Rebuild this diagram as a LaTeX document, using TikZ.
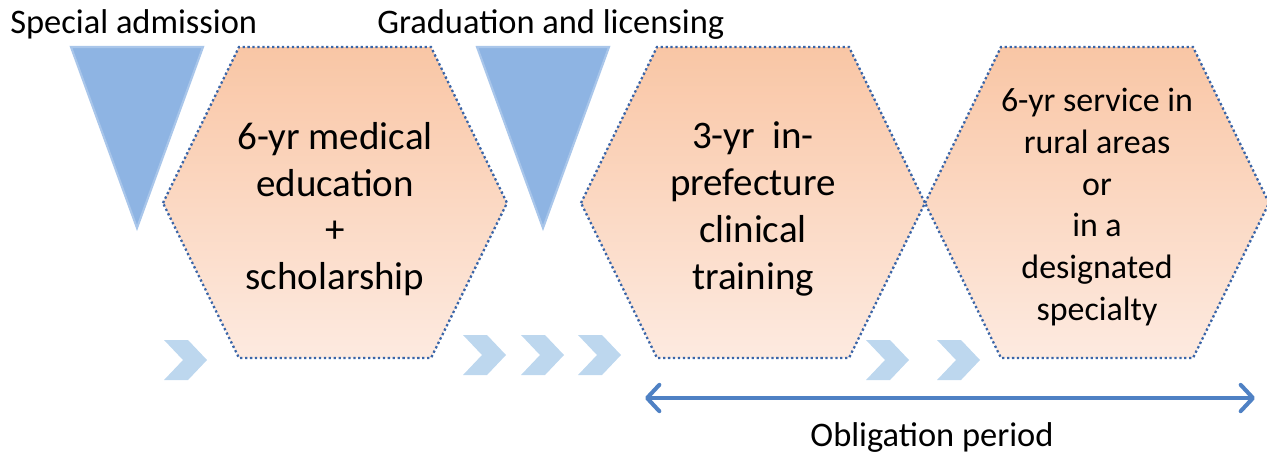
\documentclass[tikz,border=0pt]{standalone}
\usepackage{fontspec}
\setmainfont{Carlito}
\usetikzlibrary{arrows.meta}
\definecolor{peachtop}{HTML}{F9C6A5}
\definecolor{peachbot}{HTML}{FDEAE0}
\definecolor{dotblue}{HTML}{3A65A8}
\definecolor{tribl}{HTML}{8EB4E3}
\definecolor{triedge}{HTML}{A9C6EA}
\definecolor{chevbl}{HTML}{BDD7EE}
\definecolor{arrbl}{HTML}{4F81C4}
\begin{document}
\begin{tikzpicture}[x=0.02cm,y=-0.02cm]
        \tikzset{
            hexa/.style={
              insert path={+(-172,0) -- +(-96,-156) -- +(96,-156) -- +(172,0) -- +(96,155) -- +(-96,155) -- cycle}
            },
            wedge/.style={
              insert path={+(-66,0) -- +(66,0) -- +(0,181) -- cycle}
            },
            chev/.style={
              insert path={+(0,-20) -- +(24,-20) -- +(43,0) -- +(24,20) -- +(0,20) -- +(19,0) -- cycle}
            },
            hexfill/.style={top color=peachtop, bottom color=peachbot, draw=dotblue,
              line width=1.3pt, dash pattern=on 1.3pt off 1.5pt},
            bigtext/.style={align=center, font=\fontsize{22.2}{26.6}\selectfont},
            smalltext/.style={align=center, font=\fontsize{19.3}{23.8}\selectfont},
            headtext/.style={anchor=base west, inner sep=0pt, font=\fontsize{19.6}{23.5}\selectfont}
          }
        \useasboundingbox (0,0) rectangle (1267,454);

        % entry points
        \coordinate (adm) at (137,47);
        \coordinate (grad) at (543,47);
        \foreach \t in {adm,grad}
          \filldraw[fill=tribl, draw=triedge, line width=1.2pt] (\t) [wedge];
        \node[headtext] (admtxt) at (10,33) {Special admission};
        \node[headtext] (gradtxt) at (377,33) {Graduation and licensing};

        % the three stages
        \coordinate (edu) at (335,203);
        \coordinate (train) at (753,203);
        \coordinate (serv) at (1097,203);
        \foreach \h in {edu,train,serv}
          \path[hexfill] (\h) [hexa];
        \node[bigtext] (edutxt) at (335,209) {6-yr medical\\education\\+\\scholarship};
        \node[bigtext] (traintxt) at (753,209) {3-yr~~in-\\prefecture\\clinical\\training};
        \node[smalltext] (servtxt) at (1097,207) {6-yr service in\\rural areas\\or\\in a\\designated\\specialty};

        % chevrons between the stages
        \foreach \x/\y in {164/360, 463/355, 521/355, 578/355, 866/360, 937/360}
          \fill[chevbl] (\x,\y) [chev];

        % obligation period
        \coordinate (obs) at (645,398);
        \coordinate (obe) at (1255,398);
        \draw[arrbl, line width=2.3pt, {Straight Barb[length=7pt,width=15pt,round]}-{Straight Barb[length=7pt,width=15pt,round]}] (obs) -- (obe);
        \node[headtext, anchor=base] (obltxt) at (932,446) {Obligation period};
    \end{tikzpicture}
\end{document}
